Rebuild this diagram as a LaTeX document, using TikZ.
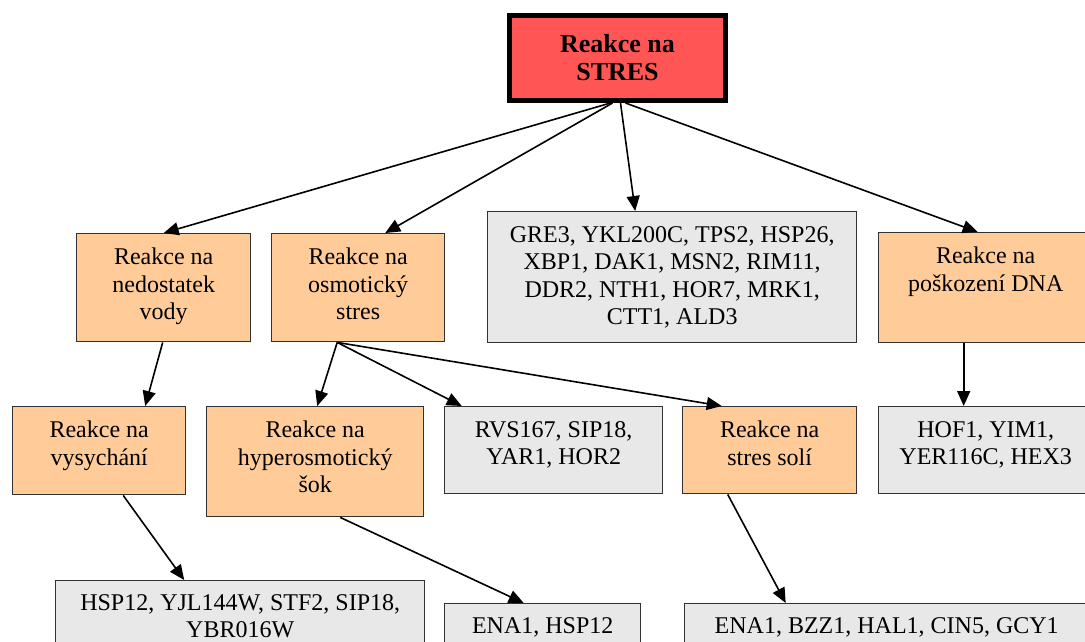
\documentclass[tikz,border=0pt]{standalone}
\usepackage{fontspec}
\setmainfont{Liberation Serif}
\usetikzlibrary{arrows.meta}

\definecolor{peachfill}{RGB}{255,204,153}
\definecolor{greyfill}{RGB}{232,232,232}
\definecolor{redfill}{RGB}{255,85,85}
\definecolor{edge}{RGB}{50,50,50}

\tikzset{
  box/.style={draw=edge, line width=1.4pt, inner sep=0pt, anchor=north west},
  peach/.style={box, fill=peachfill},
  grey/.style={box, fill=greyfill},
  lbl/.style={anchor=north, inner sep=0pt, align=center,
              font=\fontsize{24}{27.5}\selectfont},
  arr/.style={line width=1.6pt, draw=black,
              -{Triangle[length=15pt,width=13pt]}},
}

\begin{document}
\begin{tikzpicture}[x=1pt,y=-1pt]
\useasboundingbox (0,0) rectangle (1085,641);
\clip (0,0) rectangle (1085,641);
\fill[white] (0,0) rectangle (1085,641);

% root
\node[draw=black, line width=5pt, fill=redfill, inner sep=0pt,
      minimum width=216pt, minimum height=85pt, align=center,
      font=\bfseries\fontsize{26}{28}\selectfont]
      (top) at (617.5,58) {Reakce na\\STRES};

% first level
\node[peach, minimum width=174pt, minimum height=108pt] (ned) at (76,233) {};
\node[lbl] (ned-t) at ([yshift=-15pt]ned.north) {Reakce na\\nedostatek\\vody};

\node[peach, minimum width=173pt, minimum height=108pt] (osm) at (271,233) {};
\node[lbl] (osm-t) at ([yshift=-15pt]osm.north) {Reakce na\\osmotický\\stres};

\node[grey, minimum width=369pt, minimum height=131pt] (gre) at (487,211) {};
\node[lbl] (gre-t) at ([yshift=-15pt]gre.north)
  {GRE3, YKL200C, TPS2, HSP26,\\XBP1, DAK1, MSN2, RIM11,\\DDR2, NTH1, HOR7, MRK1,\\CTT1, ALD3};

\node[peach, minimum width=214pt, minimum height=110pt] (dna) at (878,232) {};
\node[lbl] (dna-t) at ([yshift=-15pt]dna.north) {Reakce na\\poškození DNA};

% second level
\node[peach, minimum width=173pt, minimum height=88pt] (vys) at (12,406) {};
\node[lbl] (vys-t) at ([yshift=-15pt]vys.north) {Reakce na\\vysychání};

\node[peach, minimum width=217pt, minimum height=110pt] (hyp) at (206,406) {};
\node[lbl] (hyp-t) at ([yshift=-15pt]hyp.north) {Reakce na\\hyperosmotický\\šok};

\node[grey, minimum width=218pt, minimum height=87pt] (rvs) at (444,406) {};
\node[lbl] (rvs-t) at ([yshift=-15pt]rvs.north) {RVS167, SIP18,\\YAR1, HOR2};

\node[peach, minimum width=174pt, minimum height=87pt] (sol) at (682,406) {};
\node[lbl] (sol-t) at ([yshift=-15pt]sol.north) {Reakce na\\stres solí};

\node[grey, minimum width=214pt, minimum height=87pt] (hof) at (878,406) {};
\node[lbl] (hof-t) at ([yshift=-15pt]hof.north) {HOF1, YIM1,\\YER116C, HEX3};

% third level
\node[grey, minimum width=369pt, minimum height=90pt] (hsp) at (55,580) {};
\node[lbl] (hsp-t) at ([yshift=-14pt]hsp.north) {HSP12, YJL144W, STF2, SIP18,\\YBR016W};

\node[grey, minimum width=196pt, minimum height=70pt] (ena) at (444,603) {};
\node[lbl] (ena-t) at ([yshift=-14pt]ena.north) {ENA1, HSP12};

\node[grey, minimum width=404pt, minimum height=70pt] (bzz) at (684,603) {};
\node[lbl] (bzz-t) at ([yshift=-14pt]bzz.north) {ENA1, BZZ1, HAL1, CIN5, GCY1};

% connectors
\draw[arr] ([xshift=-7pt]top.south) -- (ned.north);
\draw[arr] ([xshift=-5pt]top.south) -- ([xshift=27pt]osm.north);
\draw[arr] ([xshift=3pt]top.south) -- ([xshift=-37pt]gre.north);
\draw[arr] ([xshift=8pt]top.south) -- ([xshift=-8pt]dna.north);

\draw[arr] ([xshift=-1pt]ned.south) -- ([xshift=46pt]vys.north);
\draw[arr] ([xshift=-21pt]osm.south) -- ([xshift=2pt]hyp.north);
\draw[arr] ([xshift=-21pt]osm.south) -- ([xshift=-92pt]rvs.north);
\draw[arr] ([xshift=-21pt]osm.south) -- ([xshift=-48pt]sol.north);
\draw[arr] ([xshift=-22pt]dna.south) -- ([xshift=-22pt]hof.north);

\draw[arr] ([xshift=24pt]vys.south) -- ([xshift=-56pt]hsp.north);
\draw[arr] ([xshift=25pt]hyp.south) -- ([xshift=-19pt]ena.north);
\draw[arr] ([xshift=-42pt]sol.south) -- ([xshift=-101pt]bzz.north);
\end{tikzpicture}
\end{document}
